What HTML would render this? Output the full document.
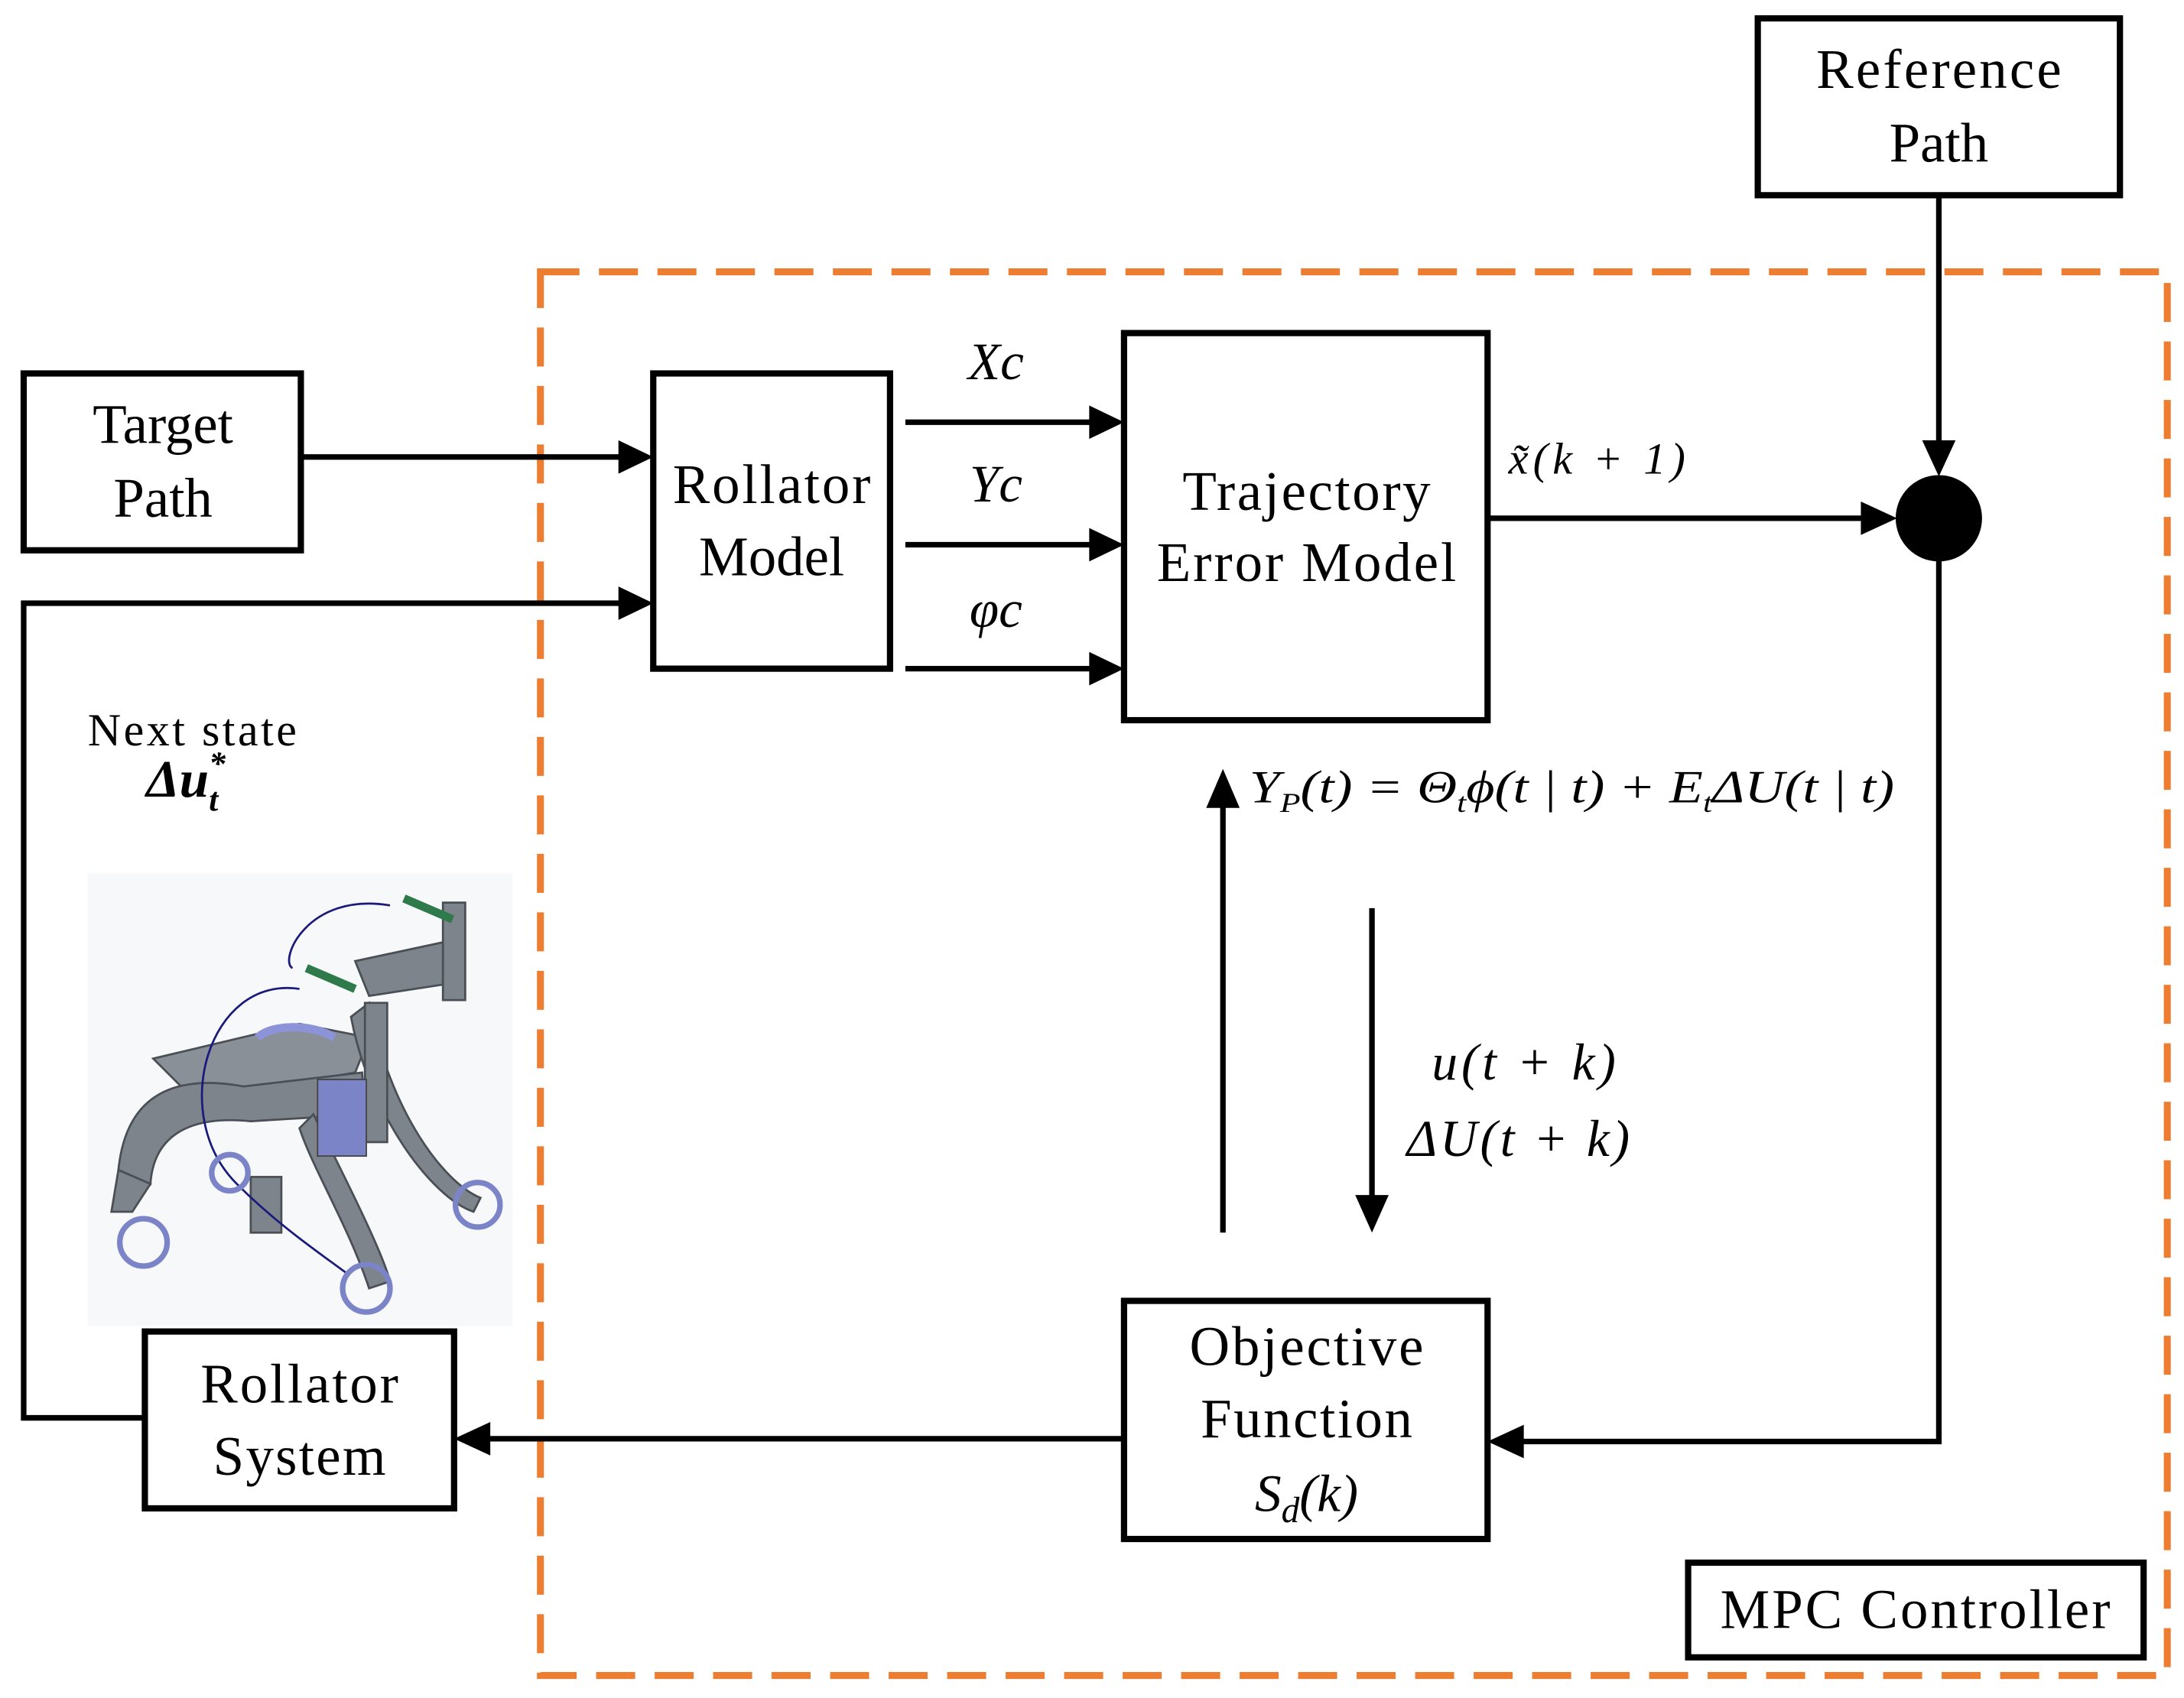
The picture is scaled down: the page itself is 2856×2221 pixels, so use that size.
<!DOCTYPE html>
<html><head><meta charset="utf-8"><style>
html,body{margin:0;padding:0;background:#fff;}
svg{display:block;}
text{font-family:"Liberation Serif","DejaVu Serif",serif;fill:#000;}
</style></head><body>
<svg width="2856" height="2221" viewBox="0 0 1568 1219" xmlns="http://www.w3.org/2000/svg">
<rect width="1568" height="1219" fill="#fff"/>
<rect x="388" y="195" width="1168" height="1008" fill="none" stroke="#ED7D31" stroke-width="5" stroke-dasharray="28,14"/>

<g fill="none" stroke="#000" stroke-width="4.5">
<rect x="1262" y="13" width="260" height="127"/>
<rect x="17" y="268" width="199" height="127"/>
<rect x="469" y="268" width="170" height="212"/>
<rect x="807" y="239" width="261" height="278"/>
<rect x="807" y="934" width="261" height="171"/>
<rect x="104" y="956" width="222" height="127"/>
<rect x="1212" y="1122" width="327" height="68"/>
</g>

<g fill="none" stroke="#000" stroke-width="4">
<line x1="216" y1="328" x2="448" y2="328"/>
<polyline points="104,1018 17,1018 17,433 448,433"/>
<line x1="650" y1="303" x2="787" y2="303"/>
<line x1="650" y1="391" x2="787" y2="391"/>
<line x1="650" y1="480" x2="787" y2="480"/>
<line x1="1068" y1="372" x2="1340" y2="372"/>
<line x1="1392" y1="140" x2="1392" y2="320"/>
<polyline points="1392,402 1392,1035 1090,1035"/>
<line x1="807" y1="1033" x2="350" y2="1033"/>
<line x1="878" y1="885" x2="878" y2="575"/>
<line x1="985" y1="652" x2="985" y2="862"/>
</g>
<g fill="#000">
<polygon points="469,328 444,316 444,340"/>
<polygon points="469,433 444,421 444,445"/>
<polygon points="807,303 782,291 782,315"/>
<polygon points="807,391 782,379 782,403"/>
<polygon points="807,480 782,468 782,492"/>
<polygon points="1362,372 1336,360 1336,384"/>
<polygon points="1392,342 1380,316 1404,316"/>
<polygon points="1068,1035 1094,1023 1094,1047"/>
<polygon points="326,1033 352,1021 352,1045"/>
<polygon points="878,552 866,580 890,580"/>
<polygon points="985,885 973,858 997,858"/>
<circle cx="1392" cy="372" r="31"/>
</g>

<g font-size="40" text-anchor="middle">
<text x="1392" y="63" textLength="176">Reference</text>
<text x="1392" y="116">Path</text>
<text x="117" y="318">Target</text>
<text x="117" y="371">Path</text>
<text x="554" y="361" textLength="142">Rollator</text>
<text x="554" y="413">Model</text>
<text x="938" y="366" textLength="178">Trajectory</text>
<text x="938" y="417" textLength="215">Error Model</text>
<text x="938" y="980" textLength="168">Objective</text>
<text x="938" y="1032" textLength="152">Function</text>
<text x="215" y="1007" textLength="142">Rollator</text>
<text x="215" y="1059" textLength="124">System</text>
<text x="1375" y="1169" textLength="280">MPC Controller</text>
</g>
<g font-size="38" font-style="italic" text-anchor="middle">
<text x="715" y="272">Xc</text>
<text x="715" y="360">Yc</text>
<text x="715" y="450">φc</text>
<text x="938" y="1085">S<tspan font-size="26" dy="8">d</tspan><tspan dy="-8">(k)</tspan></text>
</g>
<text x="1083" y="340" font-size="32" font-style="italic" textLength="127">x̃(k + 1)</text>
<text x="897" y="576" font-size="33" font-style="italic" textLength="463" lengthAdjust="spacingAndGlyphs">Y<tspan font-size="20" dy="7">P</tspan><tspan dy="-7">(t) = Θ</tspan><tspan font-size="20" dy="7">t</tspan><tspan dy="-7">ϕ(t | t) + E</tspan><tspan font-size="20" dy="7">t</tspan><tspan dy="-7">ΔU(t | t)</tspan></text>
<text x="1028" y="775" font-size="37" font-style="italic" textLength="132">u(t + k)</text>
<text x="1010" y="830" font-size="37" font-style="italic" textLength="160">ΔU(t + k)</text>
<text x="63" y="535" font-size="33" textLength="150">Next state</text>
<text x="105" y="572" font-size="38" font-style="italic" font-weight="bold">Δu<tspan font-size="24" dy="-16">*</tspan><tspan font-size="24" dx="-12" dy="26">t</tspan></text>

<rect x="63" y="627" width="305" height="325" fill="#f7f8f9"/>
<g fill="#7d848c" stroke="#4a4f55" stroke-width="1.5">
<path d="M110,760 L215,735 L265,745 L255,770 L140,790 Z" fill="#8a9098"/>
<path d="M85,840 C90,790 120,770 175,780 L260,770 L262,800 L180,805 C130,800 110,820 108,850 Z"/>
<path d="M225,800 C250,850 275,900 280,920 L265,925 C250,880 225,840 215,810 Z"/>
<path d="M265,720 C280,800 320,850 345,860 L340,870 C310,860 265,800 252,730 Z"/>
<path d="M255,690 L325,675 L330,705 L265,715 Z"/>
<rect x="318" y="648" width="16" height="70"/>
<rect x="262" y="720" width="16" height="100"/>
<rect x="180" y="845" width="22" height="40"/>
<path d="M85,840 L80,870 L95,870 L108,850 Z"/>
</g>
<rect x="228" y="775" width="35" height="55" fill="#7c84c8" stroke="#444" stroke-width="1"/>
<path d="M290,645 L325,660 M220,695 L255,710" stroke="#2f7a4a" stroke-width="6" fill="none"/>
<path d="M185,745 C195,735 225,735 240,745" stroke="#8c93d8" stroke-width="6" fill="none"/>
<path d="M280,650 C220,640 200,690 210,695 M215,710 C150,700 120,800 170,850 C200,880 230,900 250,915" stroke="#1a1a7a" stroke-width="1.5" fill="none"/>
<g fill="none" stroke="#7c84c8" stroke-width="4">
<circle cx="103" cy="892" r="17"/>
<circle cx="263" cy="925" r="17"/>
<circle cx="343" cy="865" r="16"/>
<circle cx="165" cy="842" r="13"/>
</g>
</svg>
</body></html>
